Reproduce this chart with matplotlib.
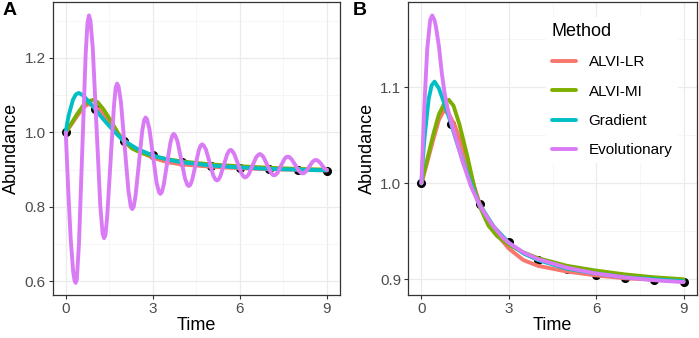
import numpy as np
import matplotlib
matplotlib.use("Agg")
import matplotlib.pyplot as plt
from matplotlib.ticker import FixedLocator

plt.rcParams["font.family"] = ["Liberation Sans", "DejaVu Sans"]

# ── Data ─────────────────────────────────────────────────────────────────────

obs_t = [0, 1, 2, 3, 4, 5, 6, 7, 8, 9]
obs_v = [1.000, 1.0615, 0.978, 0.9385, 0.920, 0.911, 0.904, 0.901, 0.899, 0.8975]

lr_t = [0, 0.2, 0.4, 0.6, 0.77, 0.95, 1.15, 1.35, 1.6, 1.8, 2.0, 2.37, 2.75,
        3.0, 3.5, 4.0, 5.0, 6.0, 7.0, 8.0, 9.0]
lr_v = [1.000, 1.022, 1.045, 1.066, 1.076, 1.072, 1.060, 1.043, 1.020, 0.998,
        0.979, 0.958, 0.941, 0.932, 0.920, 0.914, 0.908, 0.904, 0.901, 0.8995, 0.898]

mi_t = [0, 0.2, 0.4, 0.6, 0.8, 0.94, 1.1, 1.3, 1.57, 1.85, 2.0, 2.3, 2.6,
        3.0, 3.5, 4.0, 5.0, 6.0, 7.0, 8.0, 9.0]
mi_v = [1.000, 1.025, 1.050, 1.072, 1.084, 1.087, 1.081, 1.062, 1.029, 0.991,
        0.976, 0.956, 0.945, 0.936, 0.928, 0.922, 0.914, 0.909, 0.905, 0.902, 0.900]

gr_t = [0, 0.05, 0.1, 0.15, 0.25, 0.35, 0.45, 0.6, 0.8, 1.0, 1.2, 1.42, 1.7,
        1.97, 2.48, 3.0, 3.5, 4.0, 5.0, 6.0, 7.0, 8.0, 9.0]
gr_v = [1.000, 1.025, 1.045, 1.060, 1.088, 1.102, 1.106, 1.099, 1.082, 1.064,
        1.044, 1.024, 1.000, 0.979, 0.955, 0.938, 0.927, 0.920, 0.911, 0.906,
        0.902, 0.900, 0.898]

# panel B evolutionary fit
evb_t = [0, 0.1, 0.2, 0.3, 0.37, 0.45, 0.5, 0.6, 0.7, 0.8, 0.9, 1.0, 1.2, 1.4,
         1.7, 2.0, 2.4, 2.77, 3.0, 3.5, 4.0, 5.0, 6.0, 7.0, 8.0, 9.0]
evb_v = [1.000, 1.080, 1.140, 1.170, 1.175, 1.170, 1.163, 1.143, 1.115, 1.093,
         1.078, 1.066, 1.045, 1.024, 0.997, 0.977, 0.958, 0.944, 0.938, 0.928,
         0.921, 0.912, 0.906, 0.902, 0.899, 0.897]

# panel A evolutionary fit (damped oscillation)
eva_t = [0.00, 0.085, 0.17, 0.255, 0.30, 0.34, 0.38, 0.455, 0.57, 0.685, 0.75, 0.80, 0.85,
         0.93, 1.06, 1.19, 1.27, 1.32, 1.37, 1.43, 1.545, 1.66, 1.72, 1.77, 1.82,
         1.90, 2.03, 2.16, 2.24, 2.29, 2.34, 2.405, 2.52, 2.635, 2.70, 2.75, 2.80,
         2.88, 3.005, 3.13, 3.21, 3.26, 3.31, 3.375, 3.49, 3.605, 3.67, 3.72, 3.77,
         3.85, 3.98, 4.11, 4.19, 4.24, 4.29, 4.355, 4.47, 4.585, 4.65, 4.70, 4.75,
         4.83, 4.955, 5.08, 5.16, 5.21, 5.26, 5.33, 5.445, 5.56, 5.63, 5.68, 5.73,
         5.805, 5.93, 6.055, 6.13, 6.18, 6.23, 6.31, 6.435, 6.56, 6.64, 6.69, 6.74,
         6.81, 6.935, 7.06, 7.13, 7.18, 7.23, 7.30, 7.415, 7.53, 7.60, 7.65, 7.70,
         7.78, 7.905, 8.03, 8.11, 8.16, 8.21, 8.275, 8.39, 8.505, 8.57, 8.62, 8.67,
         8.75, 8.84, 8.92, 9.00]
eva_v = [1.000, 0.845, 0.714, 0.627, 0.603, 0.596, 0.604, 0.701, 0.955, 1.209, 1.295, 1.314, 1.300,
         1.227, 1.015, 0.803, 0.728, 0.716, 0.725, 0.777, 0.924, 1.070, 1.120, 1.131, 1.123,
         1.082, 0.963, 0.843, 0.801, 0.794, 0.800, 0.830, 0.917, 1.004, 1.033, 1.040, 1.035,
         1.010, 0.938, 0.865, 0.840, 0.835, 0.839, 0.859, 0.916, 0.972, 0.991, 0.996, 0.992,
         0.976, 0.926, 0.876, 0.859, 0.856, 0.859, 0.872, 0.912, 0.952, 0.965, 0.968, 0.965,
         0.954, 0.920, 0.885, 0.873, 0.871, 0.873, 0.883, 0.912, 0.941, 0.951, 0.953, 0.951,
         0.942, 0.916, 0.890, 0.881, 0.879, 0.881, 0.888, 0.911, 0.933, 0.940, 0.942, 0.940,
         0.934, 0.914, 0.893, 0.886, 0.885, 0.886, 0.892, 0.910, 0.928, 0.934, 0.935, 0.934,
         0.928, 0.913, 0.897, 0.891, 0.890, 0.891, 0.895, 0.908, 0.921, 0.925, 0.926, 0.925,
         0.920, 0.911, 0.903, 0.899]

METHODS = ["ALVI-LR", "ALVI-MI", "Gradient", "Evolutionary"]
COLORS = {
    "ALVI-LR": "#F8766D",
    "ALVI-MI": "#7CAE00",
    "Gradient": "#00BFC4",
    "Evolutionary": "#DA7BF6",
}

W, H = 699, 338


def style_axes(ax, xlim, ylim, yticks, yminor, ylabels):
    ax.set_xlim(*xlim)
    ax.set_ylim(*ylim)
    ax.set_xticks([0, 3, 6, 9])
    ax.set_xticklabels(["0", "3", "6", "9"])
    ax.xaxis.set_minor_locator(FixedLocator([1.5, 4.5, 7.5]))
    ax.set_yticks(yticks)
    ax.set_yticklabels(ylabels)
    ax.yaxis.set_minor_locator(FixedLocator(yminor))
    ax.grid(True, which="major", color="#EBEBEB", lw=0.9)
    ax.grid(True, which="minor", color="#F3F3F3", lw=0.5)
    ax.set_axisbelow(True)
    ax.tick_params(which="major", length=3, width=0.8, color="#333333",
                   labelsize=11, labelcolor="#4D4D4D", pad=2)
    ax.tick_params(which="minor", length=0)
    for sp in ax.spines.values():
        sp.set_color("#333333")
        sp.set_linewidth(0.9)
    ax.set_xlabel("Time", fontsize=13, labelpad=1)
    ax.set_ylabel("Abundance", fontsize=13, labelpad=3)


def draw_panel(ax, ev_t, ev_v):
    ax.plot(obs_t, obs_v, "o", color="black", ms=5.5, zorder=2)
    series = {
        "ALVI-LR": (lr_t, lr_v),
        "ALVI-MI": (mi_t, mi_v),
        "Gradient": (gr_t, gr_v),
        "Evolutionary": (ev_t, ev_v),
    }
    for name in METHODS:
        t, v = series[name]
        ax.plot(t, v, color=COLORS[name], lw=2.8, label=name,
                solid_capstyle="round", solid_joinstyle="round", zorder=3)


fig = plt.figure(figsize=(W / 100, H / 100), dpi=100)

axA = fig.add_axes([52.7 / W, 1 - 295 / H, 287.3 / W, 293 / H])
draw_panel(axA, eva_t, eva_v)
style_axes(axA, (-0.45, 9.45), (0.5635, 1.350),
           [0.6, 0.8, 1.0, 1.2], [0.7, 0.9, 1.1, 1.3],
           ["0.6", "0.8", "1.0", "1.2"])

axB = fig.add_axes([408.3 / W, 1 - 295 / H, 288.4 / W, 293 / H])
draw_panel(axB, evb_t, evb_v)
style_axes(axB, (-0.45, 9.45), (0.8836, 1.189),
           [0.9, 1.0, 1.1], [0.95, 1.05, 1.15],
           ["0.9", "1.0", "1.1"])

leg = axB.legend(loc="upper left", bbox_to_anchor=(0.45, 0.975),
                 title="Method", fontsize=11, title_fontsize=13,
                 frameon=True, facecolor="white", edgecolor="none",
                 framealpha=1, handlelength=1.6, handletextpad=0.8,
                 labelspacing=1.0, borderpad=0.4)
leg._legend_box.align = "left"
for line in leg.get_lines():
    line.set_linewidth(2.8)

fig.text(3 / W, 1 - 2 / H, "A", fontsize=14, fontweight="bold", va="top")
fig.text(353 / W, 1 - 2 / H, "B", fontsize=14, fontweight="bold", va="top")

fig.savefig("out.png", dpi=100)
